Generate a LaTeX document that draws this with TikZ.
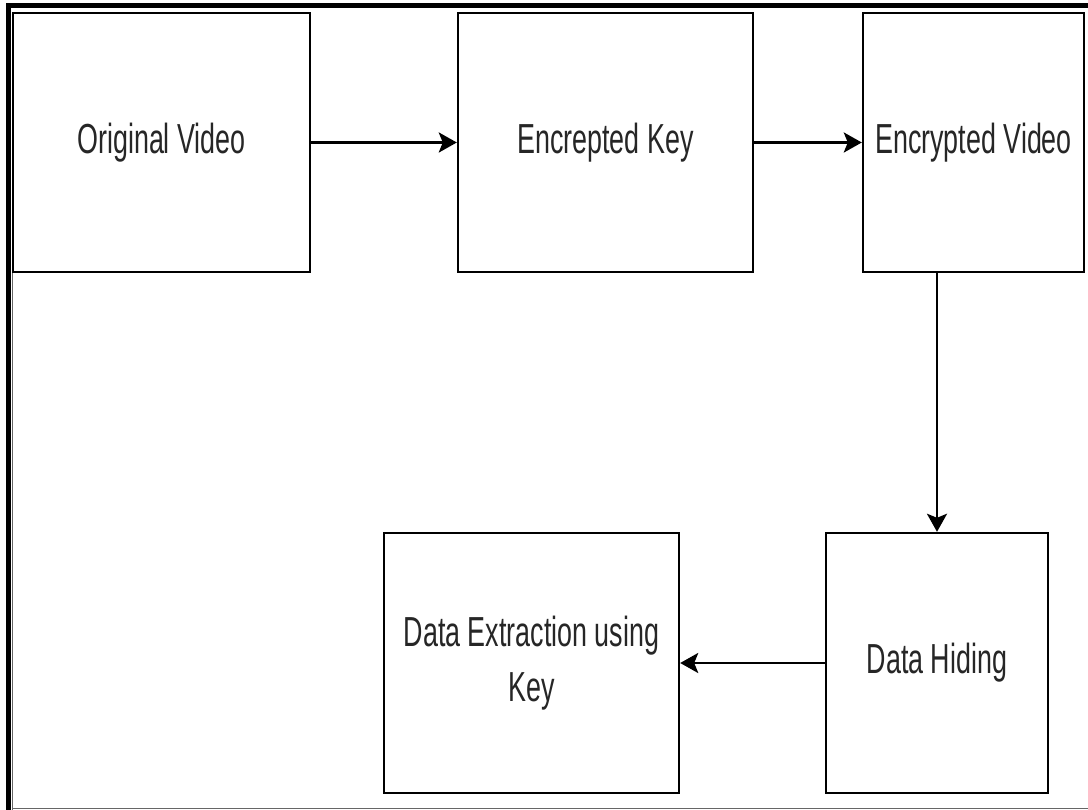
\documentclass[tikz,border=0pt]{standalone}
\usepackage{fontspec}
\setmainfont{Liberation Sans}
\usetikzlibrary{arrows.meta}
\newcommand\cnd[1]{\scalebox{0.64}[1]{#1}}
\begin{document}
\begin{tikzpicture}[x=1pt,y=-1pt,
  box/.style={draw, line width=2.4pt, inner sep=0pt, align=center,
    font=\fontsize{42}{55}\selectfont, text=black!85},
  arr/.style={line width=2.8pt, -{Stealth[length=18pt,width=20pt,inset=4pt]}}]
\useasboundingbox (0,0) rectangle (1088,810);
% frame
\draw[line width=5.5pt] (8.5,810) -- (8.5,5.5) -- (1088,5.5);
\draw[black!60, line width=1.2pt] (12.5,810) -- (12.5,13);
\draw[black!60, line width=1.6pt] (12,808.5) -- (1088,808.5);
% boxes
\node[box, minimum width=297pt, minimum height=259pt] (ov) at (161.5,142.5) {\cnd{Original Video}};
\node[box, minimum width=295pt, minimum height=259pt] (ek) at (605.5,142.5) {\cnd{Encrepted Key}};
\node[box, minimum width=221pt, minimum height=259pt] (ev) at (973.5,142.5) {\cnd{Encrypted Video}};
\node[box, minimum width=222pt, minimum height=260pt] (dh) at (937,663) {\cnd{Data Hiding}};
\node[box, minimum width=295pt, minimum height=260pt] (de) at (531.5,663) {\cnd{Data Extraction using}\\\cnd{Key}};
% arrows
\draw[arr] (ov) -- (ek);
\draw[arr] (ek) -- (ev);
\draw[arr] (ev.south -| dh.north) -- (dh.north);
\draw[arr] (dh) -- (de);
\end{tikzpicture}
\end{document}
